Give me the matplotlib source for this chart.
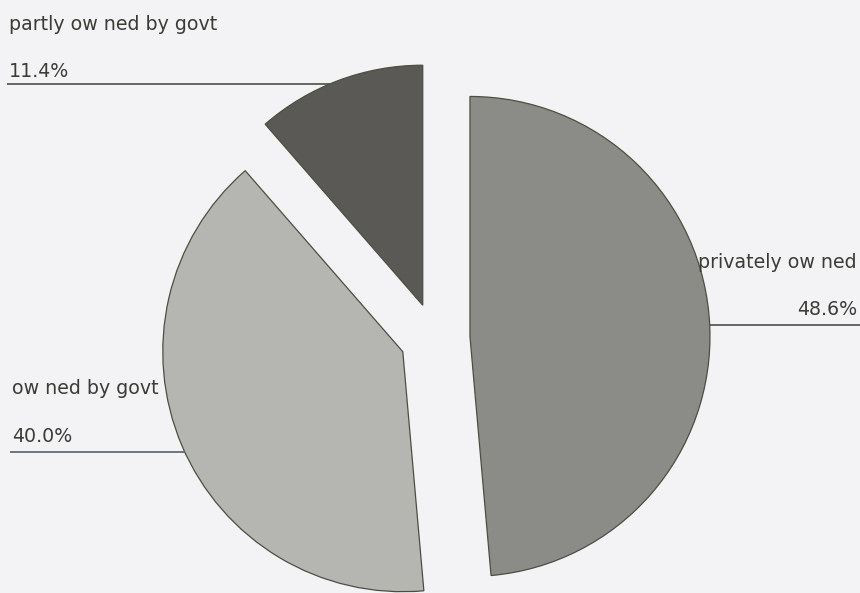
import numpy as np
import matplotlib
matplotlib.use("Agg")
import matplotlib.pyplot as plt

# ---- data ----
categories = ["privately ow ned", "ow ned by govt", "partly ow ned by govt"]
values = [48.6, 40.0, 11.4]
pct_labels = ["48.6%", "40.0%", "11.4%"]
colors = ["#8b8b88", "#b5b5b2", "#5a5956"]

W, H = 860, 593
BG = "#f3f3f6"
fig = plt.figure(figsize=(W / 100, H / 100), dpi=100, facecolor=BG)
ax = fig.add_axes([0, 0, 1, 1])
ax.set_facecolor(BG)

R = 240
center = (435, H - 338)
explode = [35] * 3  # absolute offset in data units (pixels)
wedges, _ = ax.pie(values, colors=colors, startangle=90, counterclock=False,
                   radius=R, center=center, explode=explode,
                   wedgeprops=dict(edgecolor="#4a5040", linewidth=0.9))
for w in wedges:
    w.set_zorder(2)

ax.set_xlim(0, W)
ax.set_ylim(0, H)
ax.set_aspect("auto")
ax.axis("off")

# labels with leader lines reaching the wedge arc
font = dict(family="DejaVu Sans", fontsize=13.7, color="#3a3d35")
label_specs = [
    # (line y px, side, name baseline px, pct baseline px, text x, line colour)
    (325, "right", 268, 315, 857, "#4b4e47"),
    (452, "left", 394, 442, 12, "#56606a"),
    (84, "left", 30, 77, 9, "#4b4e47"),
]
for w, name, pct, (ly, side, ny, py, tx, lc) in zip(wedges, categories, pct_labels, label_specs):
    cx, cy = w.center
    yd = H - ly
    dx = np.sqrt(max(R ** 2 - (yd - cy) ** 2, 0))
    if side == "right":
        xa = cx + dx
        ax.plot([xa, W], [yd, yd], color=lc, lw=1.2, zorder=3, solid_capstyle="butt")
        ax.text(tx, H - ny, name, ha="right", va="baseline", zorder=4, **font)
        ax.text(tx, H - py, pct, ha="right", va="baseline", zorder=4, **font)
    else:
        xa = cx - dx
        ax.plot([tx - 2, xa], [yd, yd], color=lc, lw=1.2, zorder=3, solid_capstyle="butt")
        ax.text(tx, H - ny, name, ha="left", va="baseline", zorder=4, **font)
        ax.text(tx, H - py, pct, ha="left", va="baseline", zorder=4, **font)

fig.savefig("out.png", dpi=100, facecolor=BG)
